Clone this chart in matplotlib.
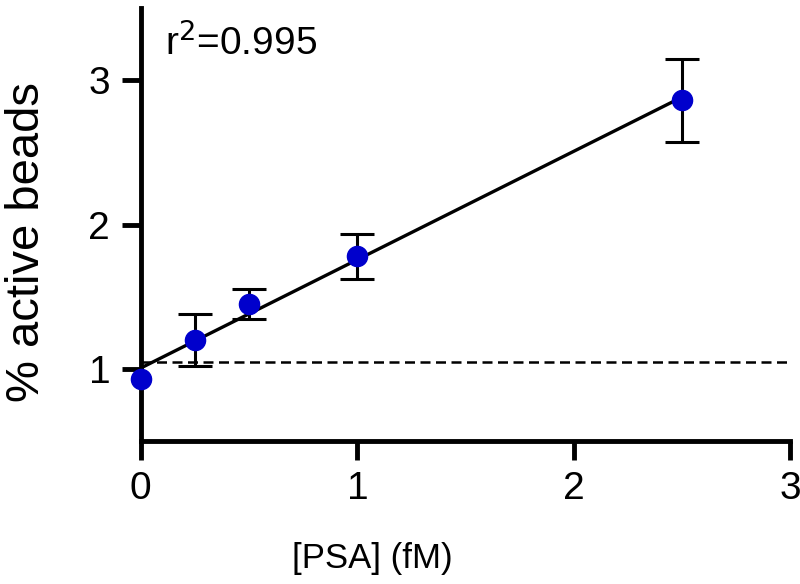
import numpy as np
import matplotlib.pyplot as plt

plt.rcParams['font.family'] = ['Liberation Sans', 'DejaVu Sans']

# PSA concentration (fM) vs % active beads
psa = [0, 0.25, 0.5, 1.0, 2.5]
active = [0.93, 1.20, 1.45, 1.78, 2.86]
err = [0.0, 0.18, 0.105, 0.155, 0.29]
background = 1.05
r2_text = 'r$^2$=0.995'

fig = plt.figure(figsize=(8, 5.84), dpi=100)
ax = fig.add_axes([0.176, 0.245, 0.812, 0.741])

# linear fit through the points
slope, icpt = np.polyfit(psa, active, 1)
xf = np.array([0, max(psa)])
ax.plot(xf, icpt + slope * xf, color='black', lw=2.4, zorder=2)

ax.axhline(background, color='black', lw=1.8, ls=(0, (4, 2.2)), zorder=1)

# no error bar drawn where the error is zero
has_err = np.array(err) > 0
ax.errorbar(np.array(psa)[has_err], np.array(active)[has_err],
            yerr=np.array(err)[has_err], fmt='none', ecolor='black',
            elinewidth=2.2, capsize=12, capthick=2.2, zorder=3)
ax.plot(psa, active, 'o', color='#0000cc', ms=14.5, zorder=4, clip_on=False)

ax.set_xlim(0, 3)
ax.set_ylim(0.5, 3.5)
ax.set_xticks([0, 1, 2, 3])
ax.set_yticks([1, 2, 3])

for s in ['top', 'right']:
    ax.spines[s].set_visible(False)
for s in ['left', 'bottom']:
    ax.spines[s].set_linewidth(3.5)
ax.tick_params(width=3.5, length=14, labelsize=28, pad=8)

ax.set_xlabel('[PSA] (fM)', fontsize=25)
ax.xaxis.set_label_coords(0.357, -0.233)
ax.set_ylabel('% active beads', fontsize=34)
ax.yaxis.set_label_coords(-0.142, 0.46)
ax.text(0.11, 3.26, r2_text, fontsize=28, va='center')

fig.savefig('out.png', dpi=100)
